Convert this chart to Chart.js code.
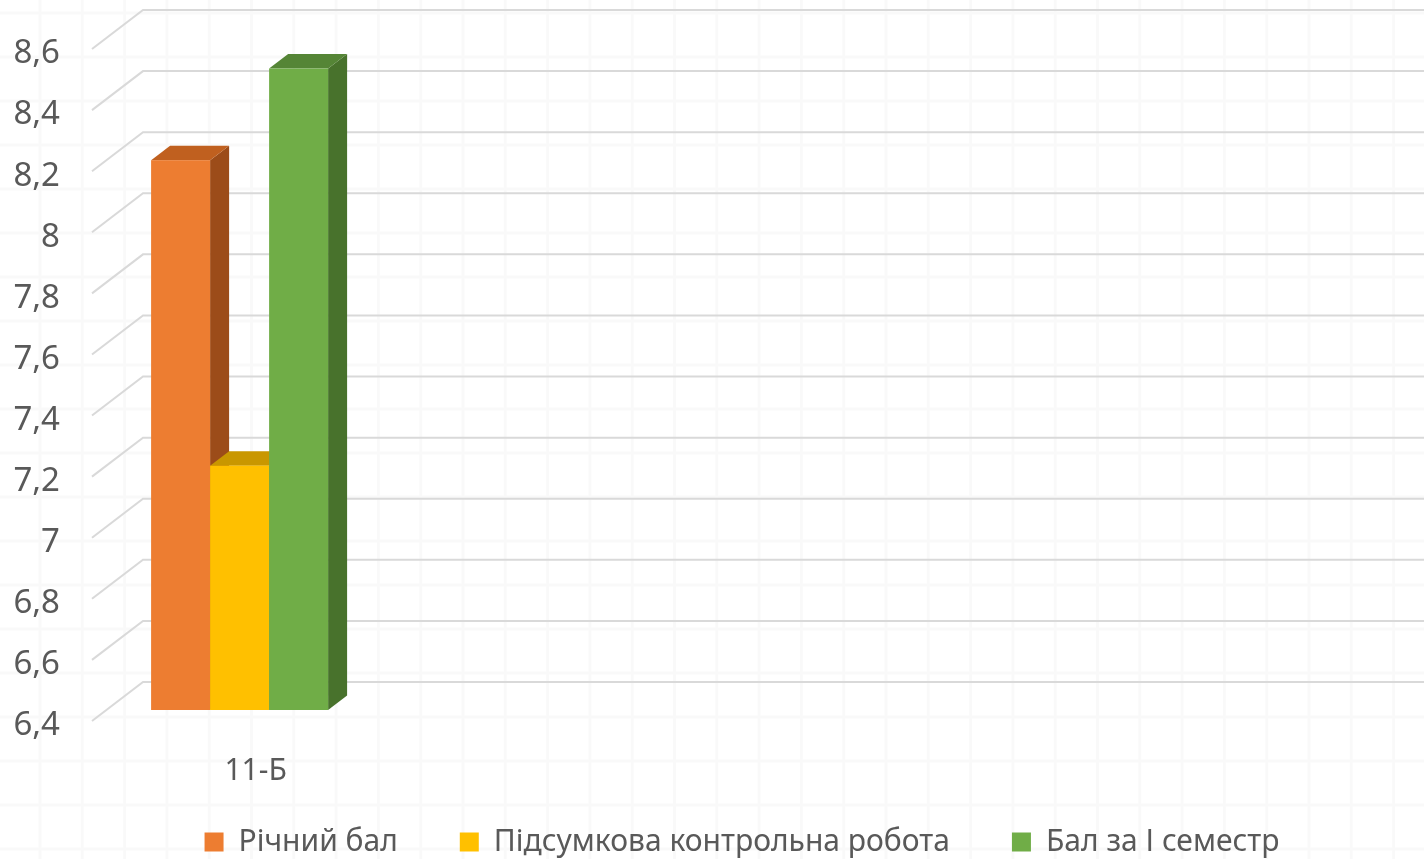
<!DOCTYPE html>
<html>
<head>
<meta charset="utf-8">
<script src="https://cdn.jsdelivr.net/npm/chart.js@4"></script>
<style>
  html, body { margin: 0; padding: 0; background: #fff; }
  canvas { display: block; }
</style>
</head>
<body>
<canvas id="chart" width="1424" height="859"></canvas>
<script>
// data
const categories = ['11-Б', '', '', '', ''];
const richnyiBal = [8.2, null, null, null, null];
const pidsumkova = [7.2, null, null, null, null];
const semestr = [8.5, null, null, null, null];
const seriesNames = ['Річний бал', 'Підсумкова контрольна робота', 'Бал за І семестр'];

const yMin = 6.4, yMax = 8.6, yStep = 0.2;

// colours: front, top, side
const faces = [
    { front: '#ED7D31', top: '#C0601F', side: '#9C4C19' },
    { front: '#FFC000', top: '#C99700', side: '#B38600' },
    { front: '#70AD47', top: '#558536', side: '#48722C' },
];

const textColor = '#595959';
const depthX = 19, depthY = -14.5;

Chart.defaults.font.family = '"Noto Sans", sans-serif';
Chart.defaults.color = textColor;

const background = {
    id: 'background',
    beforeDraw(chart) {
        const ctx = chart.ctx;
        ctx.save();
        ctx.fillStyle = '#fff';
        ctx.fillRect(0, 0, chart.width, chart.height);
        // faint paper grid behind everything
        ctx.strokeStyle = 'rgba(0,0,0,0.025)';
        ctx.lineWidth = 3;
        ctx.beginPath();
        for (let x = 40; x < chart.width; x += 42.3) {
            ctx.moveTo(x, 0); ctx.lineTo(x, chart.height);
        }
        for (let y = 13; y < chart.height; y += 44) {
            ctx.moveTo(0, y); ctx.lineTo(chart.width, y);
        }
        ctx.stroke();
        ctx.restore();
    }
};

const walls = {
    id: 'walls',
    afterLayout(chart) {
        // legend sits a little right of centre and overlaps the x axis box
        const lg = chart.legend;
        lg.left = 60;
        lg.right = chart.width;
        lg.top = 765;
        lg.bottom = chart.height;
    },
    beforeDatasetsDraw(chart) {
        const ctx = chart.ctx;
        const yScale = chart.scales.y;
        const left = chart.chartArea.left;
        const frontX = left - 16, backX = left + 35;
        ctx.save();
        ctx.strokeStyle = '#d9d9d9';
        ctx.lineWidth = 2;
        yScale.ticks.forEach(t => {
            const py = yScale.getPixelForValue(t.value);
            ctx.beginPath();
            ctx.moveTo(frontX, py + 11);
            ctx.lineTo(backX, py - 28);
            ctx.lineTo(chart.width, py - 28);
            ctx.stroke();
        });
        ctx.restore();
    },
    beforeDatasetDraw() {
        return false; // bars are drawn as boxes below
    },
    afterDatasetsDraw(chart) {
        const ctx = chart.ctx;
        const floor = chart.scales.y.getPixelForValue(yMin);
        ctx.save();
        chart.data.datasets.forEach((ds, i) => {
            const meta = chart.getDatasetMeta(i);
            const c = faces[i];
            meta.data.forEach((bar, j) => {
                if (ds.data[j] == null) return;
                const { x, y, width } = bar.getProps(['x', 'y', 'width'], true);
                const base = floor;
                const l = x - width / 2, r = x + width / 2;
                // side
                ctx.fillStyle = c.side;
                ctx.beginPath();
                ctx.moveTo(r, y);
                ctx.lineTo(r + depthX, y + depthY);
                ctx.lineTo(r + depthX, base + depthY);
                ctx.lineTo(r, base);
                ctx.closePath();
                ctx.fill();
                // top
                ctx.fillStyle = c.top;
                ctx.beginPath();
                ctx.moveTo(l, y);
                ctx.lineTo(r, y);
                ctx.lineTo(r + depthX, y + depthY);
                ctx.lineTo(l + depthX, y + depthY);
                ctx.closePath();
                ctx.fill();
                // front
                ctx.fillStyle = c.front;
                ctx.fillRect(l, y, width, base - y);
            });
        });
        ctx.restore();
    }
};

new Chart(document.getElementById('chart'), {
    type: 'bar',
    data: {
        labels: categories,
        datasets: [
            { label: seriesNames[0], data: richnyiBal, backgroundColor: faces[0].front },
            { label: seriesNames[1], data: pidsumkova, backgroundColor: faces[1].front },
            { label: seriesNames[2], data: semestr, backgroundColor: faces[2].front },
        ]
    },
    options: {
        responsive: false,
        animation: false,
        layout: { padding: { left: 5, top: 38, right: 0, bottom: 0 } },
        datasets: { bar: { categoryPercentage: 0.6725, barPercentage: 1 } },
        scales: {
            x: {
                grid: { display: false },
                border: { display: false },
                ticks: { font: { size: 30 }, color: textColor, padding: 35, labelOffset: 16, maxRotation: 0, autoSkip: false },
                afterFit: s => { s.height = 80; s.paddingLeft = 0; s.paddingRight = 0; }
            },
            y: {
                min: yMin,
                max: yMax,
                grid: { display: false },
                border: { display: false },
                ticks: {
                    stepSize: yStep,
                    font: { size: 33 },
                    color: textColor,
                    padding: 40,
                    labelOffset: 16,
                    callback: v => String(Math.round(v * 10) / 10).replace('.', ',')
                },
                afterFit: s => { s.width = 103; s.paddingTop = 0; s.paddingBottom = 0; }
            }
        },
        plugins: {
            legend: {
                position: 'bottom',
                maxHeight: 69,
                labels: {
                    boxWidth: 19,
                    boxHeight: 19,
                    padding: 62,
                    color: textColor,
                    font: { size: 30 }
                }
            },
            tooltip: { enabled: false }
        }
    },
    plugins: [background, walls]
});
</script>
</body>
</html>
